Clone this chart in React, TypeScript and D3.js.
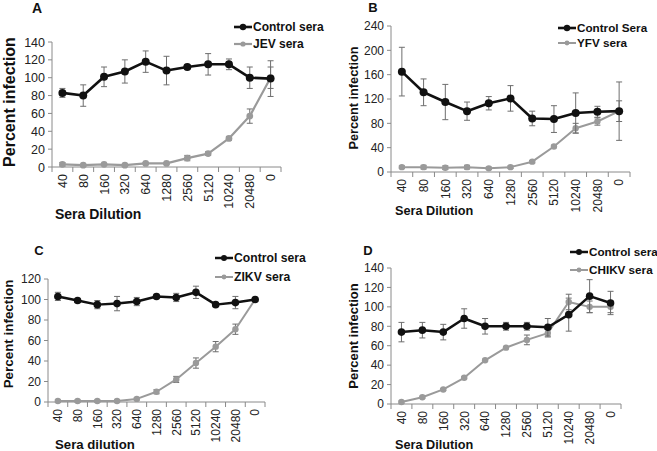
import React from "react";
import * as d3 from "d3";

const dilutions = ["40", "80", "160", "320", "640", "1280", "2560", "5120", "10240", "20480", "0"];

const controlA = [83, 80, 101, 107, 118, 108, 112, 115, 115, 100, 99];
const controlAErr = [5, 12, 11, 13, 12, 16, 2, 12, 6, 12, 20];
const jevA = [3, 2, 3, 2, 4, 4, 10, 15, 32, 57, 100];
const jevAErr = [2, 1, 1, 1, 1, 1, 3, 2, 2, 8, 12];

const controlB = [165, 131, 115, 100, 113, 121, 88, 87, 97, 99, 100];
const controlBErr = [40, 22, 29, 15, 11, 21, 12, 22, 33, 9, 48];
const yfvB = [8, 8, 7, 8, 6, 8, 17, 42, 72, 83, 100];
const yfvBErr = [2, 3, 3, 3, 2, 2, 2, 2, 8, 6, 17];

const controlC = [103, 99, 95, 96, 98, 103, 102, 107, 95, 97, 100];
const controlCErr = [4, 2, 4, 7, 4, 2, 4, 6, 2, 6, 1];
const zikvC = [1, 1, 1, 1, 3, 10, 22, 38, 54, 71, 100];
const zikvCErr = [1, 1, 1, 1, 1, 2, 3, 5, 5, 5, 2];

const controlD = [74, 76, 74, 88, 80, 80, 80, 79, 92, 111, 104];
const controlDErr = [10, 8, 8, 10, 8, 4, 4, 9, 17, 17, 12];
const chikvD = [2, 7, 15, 27, 45, 58, 66, 73, 105, 100, 100];
const chikvDErr = [1, 1, 1, 1, 1, 1, 5, 4, 8, 6, 6];

const BLACK = "#111";
const GRAY = "#9a9a9a";
const AXIS = "#8a8a8a";
const ERR = "#6e6e6e";
const FONT = "'Liberation Sans', Arial, sans-serif";

type Series = { name: string; values: number[]; err: number[]; color: string; r: number; w: number };
type Panel = {
  letter: string;
  letterX: number;
  letterY: number;
  letterSize: number;
  left: number;
  right: number;
  y0: number;
  yTop: number;
  yMax: number;
  yStep: number;
  tickSize: number;
  xTitle: string;
  xTitleX: number;
  xTitleY: number;
  xTitleSize: number;
  yTitleX: number;
  yTitleY: number;
  yTitleSize: number;
  legendX: number;
  legendY: number[];
  legendSize: number;
  series: Series[];
};

const panels: Panel[] = [
  {
    letter: "A", letterX: 37, letterY: 13, letterSize: 14,
    left: 52, right: 281, y0: 167, yTop: 42, yMax: 140, yStep: 20, tickSize: 12.5,
    xTitle: "Sera Dilution", xTitleX: 55, xTitleY: 219, xTitleSize: 14,
    yTitleX: 15, yTitleY: 102, yTitleSize: 16,
    legendX: 234, legendY: [27, 44], legendSize: 12,
    series: [
      { name: "Control sera", values: controlA, err: controlAErr, color: BLACK, r: 4, w: 2.6 },
      { name: "JEV sera", values: jevA, err: jevAErr, color: GRAY, r: 3.4, w: 2.2 },
    ],
  },
  {
    letter: "B", letterX: 373, letterY: 12, letterSize: 13,
    left: 391, right: 630, y0: 172, yTop: 26, yMax: 240, yStep: 40, tickSize: 12,
    xTitle: "Sera Dilution", xTitleX: 395, xTitleY: 215, xTitleSize: 12.7,
    yTitleX: 358, yTitleY: 98, yTitleSize: 12.7,
    legendX: 558, legendY: [28, 43], legendSize: 11.7,
    series: [
      { name: "Control Sera", values: controlB, err: controlBErr, color: BLACK, r: 4, w: 2.6 },
      { name: "YFV sera", values: yfvB, err: yfvBErr, color: GRAY, r: 3.2, w: 2 },
    ],
  },
  {
    letter: "C", letterX: 39, letterY: 255, letterSize: 13,
    left: 48, right: 265, y0: 402, yTop: 279, yMax: 120, yStep: 20, tickSize: 12,
    xTitle: "Sera dilution", xTitleX: 55, xTitleY: 449, xTitleSize: 13.2,
    yTitleX: 13, yTitleY: 334, yTitleSize: 13.4,
    legendX: 215, legendY: [258, 277], legendSize: 12.2,
    series: [
      { name: "Control sera", values: controlC, err: controlCErr, color: BLACK, r: 3.8, w: 2.5 },
      { name: "ZIKV sera", values: zikvC, err: zikvCErr, color: GRAY, r: 3.2, w: 2 },
    ],
  },
  {
    letter: "D", letterX: 368, letterY: 255, letterSize: 13,
    left: 391, right: 621, y0: 404, yTop: 268, yMax: 140, yStep: 20, tickSize: 12,
    xTitle: "Sera Dilution", xTitleX: 395, xTitleY: 449, xTitleSize: 12.7,
    yTitleX: 358, yTitleY: 336, yTitleSize: 13,
    legendX: 570, legendY: [252, 270], legendSize: 11.7,
    series: [
      { name: "Control sera", values: controlD, err: controlDErr, color: BLACK, r: 3.8, w: 2.5 },
      { name: "CHIKV sera", values: chikvD, err: chikvDErr, color: GRAY, r: 3.2, w: 2 },
    ],
  },
];

function ChartPanel({ p }: { p: Panel }) {
  const x = d3.scaleBand<string>().domain(dilutions).range([p.left, p.right]);
  const y = d3.scaleLinear().domain([0, p.yMax]).range([p.y0, p.yTop]);
  const yTicks = d3.range(0, p.yMax + 1, p.yStep);
  const cx = (d: string) => (x(d) ?? 0) + x.bandwidth() / 2;
  const boundaries = dilutions.map((d) => x(d) ?? 0).concat([p.right]);
  const line = d3
    .line<number>()
    .x((_, i) => cx(dilutions[i]))
    .y((v) => y(v));
  const cap = 3;
  const order = [...p.series].reverse();
  return (
    <g>
      <text x={p.letterX} y={p.letterY} fontSize={p.letterSize} fontWeight="bold" textAnchor="middle" fill="#111">
        {p.letter}
      </text>
      <line x1={p.left} x2={p.left} y1={p.y0} y2={p.yTop} stroke={AXIS} strokeWidth={1} />
      {yTicks.map((t) => (
        <g key={t}>
          <line x1={p.left - 4} x2={p.left} y1={y(t)} y2={y(t)} stroke={AXIS} />
          <text x={p.left - 7} y={y(t)} dy="0.36em" textAnchor="end" fontSize={p.tickSize} fill="#222">
            {t}
          </text>
        </g>
      ))}
      <line x1={p.left} x2={p.right} y1={p.y0} y2={p.y0} stroke={AXIS} strokeWidth={1} />
      {boundaries.map((b, i) => (
        <line key={i} x1={b} x2={b} y1={p.y0} y2={p.y0 + 5} stroke={AXIS} />
      ))}
      {dilutions.map((d) => (
        <text
          key={d}
          transform={`translate(${cx(d)},${p.y0 + 7}) rotate(-90)`}
          dy="0.36em"
          textAnchor="end"
          fontSize={p.tickSize}
          fill="#222"
        >
          {d}
        </text>
      ))}
      <text x={p.xTitleX} y={p.xTitleY} fontSize={p.xTitleSize} fontWeight="bold" fill="#111">
        {p.xTitle}
      </text>
      <text
        transform={`translate(${p.yTitleX},${p.yTitleY}) rotate(-90)`}
        textAnchor="middle"
        fontSize={p.yTitleSize}
        fontWeight="bold"
        fill="#111"
      >
        Percent infection
      </text>
      {order.map((s) => (
        <g key={s.name}>
          {s.values.map((v, i) => {
            const xc = cx(dilutions[i]);
            return (
              <g key={i}>
                <line x1={xc} x2={xc} y1={y(v - s.err[i])} y2={y(v + s.err[i])} stroke={ERR} strokeWidth={1} />
                <line x1={xc - cap} x2={xc + cap} y1={y(v + s.err[i])} y2={y(v + s.err[i])} stroke={ERR} />
                <line x1={xc - cap} x2={xc + cap} y1={y(v - s.err[i])} y2={y(v - s.err[i])} stroke={ERR} />
              </g>
            );
          })}
          <path d={line(s.values) ?? ""} fill="none" stroke={s.color} strokeWidth={s.w} strokeLinejoin="round" />
          {s.values.map((v, i) => (
            <circle key={i} cx={cx(dilutions[i])} cy={y(v)} r={s.r} fill={s.color} />
          ))}
        </g>
      ))}
      {p.series.map((s, i) => (
        <g key={s.name}>
          <line x1={p.legendX} x2={p.legendX + 18} y1={p.legendY[i]} y2={p.legendY[i]} stroke={s.color} strokeWidth={s.w} />
          <circle cx={p.legendX + 9} cy={p.legendY[i]} r={s.r - 0.8} fill={s.color} />
          <text x={p.legendX + 19} y={p.legendY[i]} dy="0.36em" fontSize={p.legendSize} fontWeight="bold" fill="#111">
            {s.name}
          </text>
        </g>
      ))}
    </g>
  );
}

export default function App() {
  return (
    <svg
      width={657}
      height={451}
      style={{ position: "absolute", left: 0, top: 0, background: "#fff", fontFamily: FONT }}
    >
      <rect width={657} height={451} fill="#fff" />
      {panels.map((p) => (
        <ChartPanel key={p.letter} p={p} />
      ))}
    </svg>
  );
}
